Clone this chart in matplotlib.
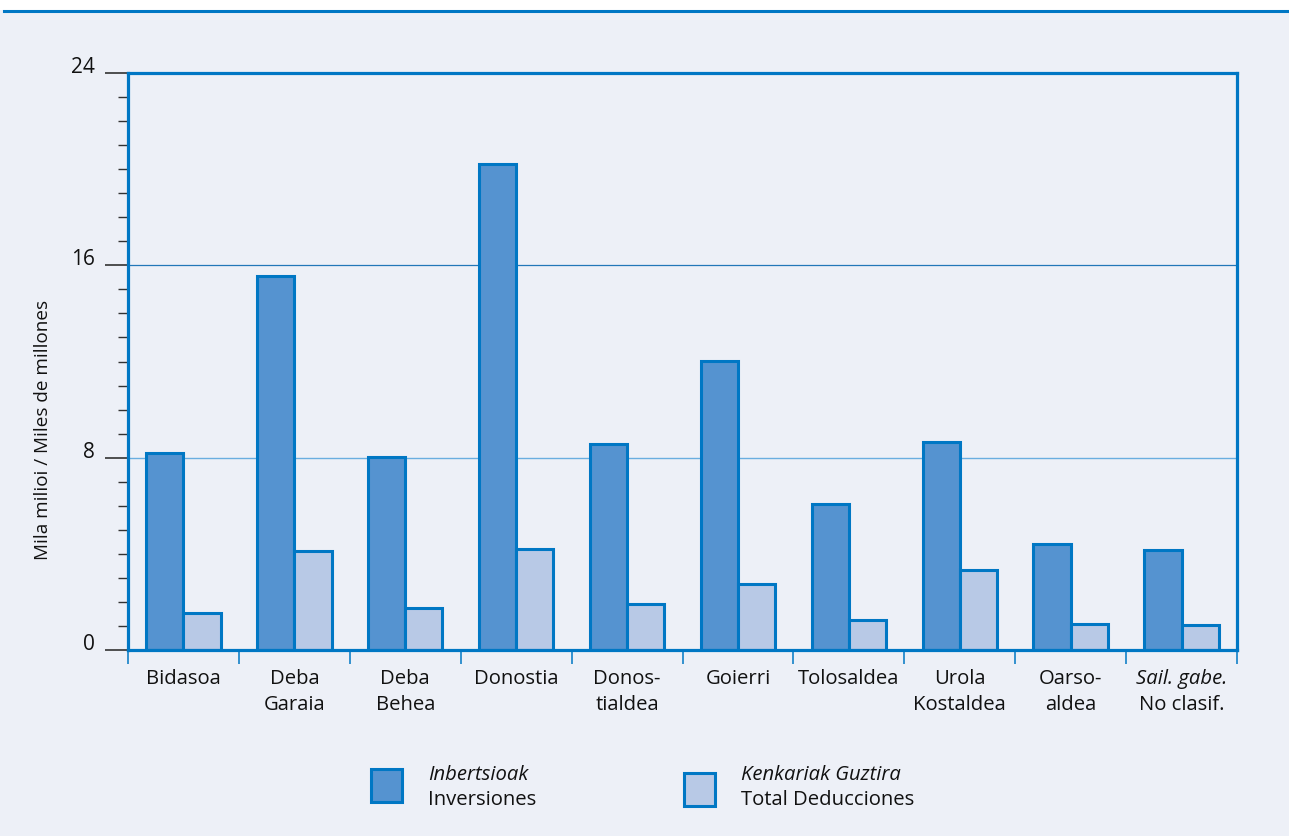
import numpy as np
import matplotlib.pyplot as plt
from matplotlib.patches import Rectangle
from matplotlib.lines import Line2D

plt.rcParams['font.family'] = ['Open Sans', 'DejaVu Sans']

# data
line1 = ['Bidasoa', 'Deba', 'Deba', 'Donostia', 'Donos-', 'Goierri', 'Tolosaldea',
         'Urola', 'Oarso-', 'Sail. gabe.']
line2 = ['', 'Garaia', 'Behea', '', 'tialdea', '', '', 'Kostaldea', 'aldea', 'No clasif.']
inversiones = [8.2, 15.55, 8.02, 20.2, 8.57, 12.02, 6.07, 8.67, 4.41, 4.16]
deducciones = [1.53, 4.13, 1.75, 4.2, 1.91, 2.75, 1.25, 3.31, 1.08, 1.04]
yticks_major = [0, 8, 16, 24]

bg = '#EDF0F7'
blue = '#0077C4'
dark_fill = '#5593D0'
light_fill = '#B8C9E6'
fs = 14.6

fig = plt.figure(figsize=(12.89, 8.36), dpi=100, facecolor=bg)

# white strip + blue rule at the top
fig.patches.append(Rectangle((0, 1 - 10 / 836), 1, 10 / 836, transform=fig.transFigure,
                             facecolor='white', edgecolor='none', zorder=0))
fig.lines.append(Line2D([0.003, 1], [1 - 11 / 836, 1 - 11 / 836], transform=fig.transFigure,
                        color=blue, linewidth=2.2))

ax = fig.add_axes([128 / 1289, 1 - 650 / 836, (1237 - 128) / 1289, (650 - 73) / 836])
ax.set_facecolor(bg)

x = np.arange(len(line1))
w = 0.335
ax.bar(x - w / 2, inversiones, w, color=dark_fill, edgecolor=blue, linewidth=2.2, zorder=3)
ax.bar(x + w / 2, deducciones, w, color=light_fill, edgecolor=blue, linewidth=2.2, zorder=3)

ax.set_xlim(-0.5, len(line1) - 0.5)
ax.set_ylim(0, 24)

# gridlines at 8 and 16
ax.axhline(8, color='#6AAEE0', linewidth=1.0, zorder=1)
ax.axhline(16, color='#2277B8', linewidth=0.9, zorder=1)

for s in ax.spines.values():
    s.set_color(blue)
    s.set_linewidth(2.3)
    s.set_zorder(4)

ax.set_yticks(yticks_major)
ax.set_yticklabels([str(v) for v in yticks_major], fontsize=15, color='#111111',
                   verticalalignment='baseline')
ax.set_yticks(np.arange(0, 25, 1), minor=True)
ax.tick_params(axis='y', which='major', length=16.5, width=1.1, color='#222222', pad=7)
ax.tick_params(axis='y', which='minor', length=7.5, width=1.0, color='#333333')

ax.set_xticks(np.arange(-0.5, len(line1), 1))
ax.set_xticklabels([])
ax.tick_params(axis='x', which='major', length=10, width=1.1, color=blue, direction='out')

trans = ax.get_xaxis_transform()
for i in range(len(line1)):
    style = 'italic' if i == len(line1) - 1 else 'normal'
    ax.text(x[i], -29 / 577, line1[i], transform=trans, ha='center', va='center',
            fontsize=fs, style=style, color='#111111')
    if line2[i]:
        ax.text(x[i], -55 / 577, line2[i], transform=trans, ha='center', va='center',
                fontsize=fs, color='#111111')

fig.text(43 / 1289, 1 - 430 / 836, 'Mila milioi / Miles de millones', rotation=90,
         ha='center', va='center', fontsize=13.6, color='#111111')

# legend drawn by hand
def legend_item(x0, y0, fill, top, bottom):
    fig.patches.append(Rectangle((x0 / 1289, 1 - (y0 + 33) / 836), 31 / 1289, 33 / 836,
                                 transform=fig.transFigure, facecolor=fill,
                                 edgecolor=blue, linewidth=2.2))
    fig.text((x0 + 57) / 1289, 1 - 775 / 836, top, style='italic', fontsize=fs,
             va='center', ha='left', color='#111111')
    fig.text((x0 + 57) / 1289, 1 - 800 / 836, bottom, fontsize=fs,
             va='center', ha='left', color='#111111')

legend_item(371, 769, dark_fill, 'Inbertsioak', 'Inversiones')
legend_item(684, 773, light_fill, 'Kenkariak Guztira', 'Total Deducciones')

fig.savefig('out.png', dpi=100, facecolor=bg)
